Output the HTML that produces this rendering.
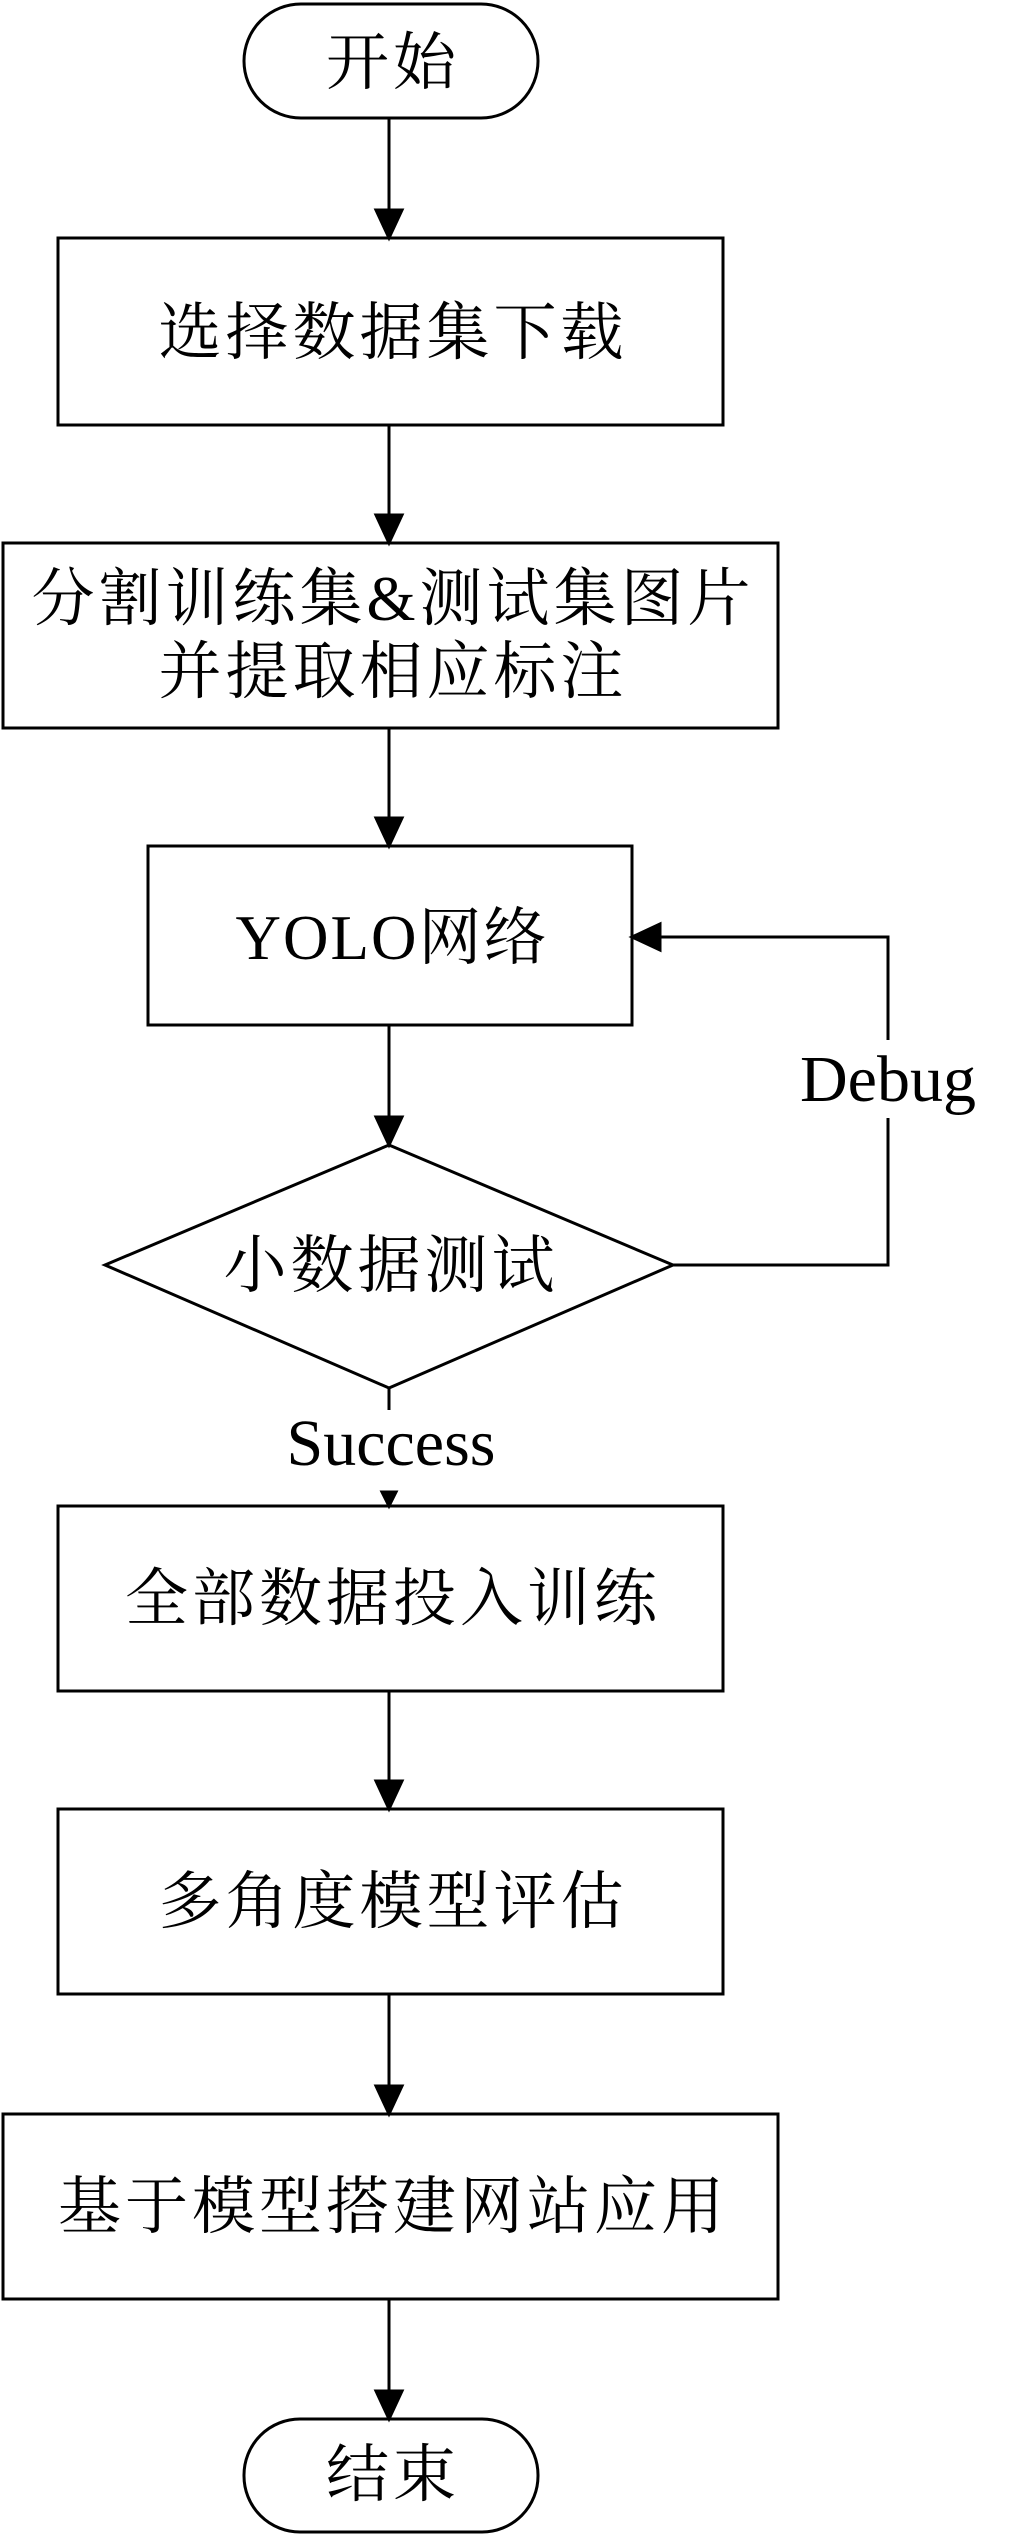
<!DOCTYPE html>
<html><head><meta charset="utf-8"><style>
html,body{margin:0;padding:0;background:#fff;}
svg text{font-family:"Liberation Serif","Noto Serif CJK SC",serif;fill:#000;}
</style></head><body>
<svg width="1010" height="2535" viewBox="0 0 1010 2535" xmlns="http://www.w3.org/2000/svg">
<g fill="none" stroke="#000" stroke-width="3">
<rect x="244" y="4" width="294" height="114" rx="57"/>
<rect x="58" y="238" width="665" height="187"/>
<rect x="3" y="543" width="775" height="185"/>
<rect x="148" y="846" width="484" height="179"/>
<polygon points="389,1145 673,1265 389,1388 105,1265"/>
<rect x="58" y="1506" width="665" height="185"/>
<rect x="58" y="1809" width="665" height="185"/>
<rect x="3" y="2114" width="775" height="185"/>
<rect x="244" y="2419" width="294" height="113" rx="56"/>
</g>
<g stroke="#000" stroke-width="3" fill="#000">
<line x1="389" y1="118" x2="389" y2="212"/><polygon points="376,210 402,210 389,238"/>
<line x1="389" y1="425" x2="389" y2="517"/><polygon points="376,515 402,515 389,543"/>
<line x1="389" y1="728" x2="389" y2="820"/><polygon points="376,818 402,818 389,846"/>
<line x1="389" y1="1025" x2="389" y2="1119"/><polygon points="376,1117 402,1117 389,1145"/>
<line x1="389" y1="1388" x2="389" y2="1410"/>
<polygon points="382,1492 396,1492 389,1506"/>
<line x1="389" y1="1691" x2="389" y2="1783"/><polygon points="376,1781 402,1781 389,1809"/>
<line x1="389" y1="1994" x2="389" y2="2088"/><polygon points="376,2086 402,2086 389,2114"/>
<line x1="389" y1="2299" x2="389" y2="2393"/><polygon points="376,2391 402,2391 389,2419"/>
<polyline points="673,1265 888,1265 888,1118" fill="none"/>
<polyline points="888,1040 888,937 658,937" fill="none"/>
<polygon points="660,924 660,950 632,937"/>
</g>
<g font-size="63" text-anchor="middle" letter-spacing="4">
<text x="393" y="84">开始</text>
<text x="393" y="354">选择数据集下载</text>
<text x="393" y="620">分割训练集&amp;测试集图片</text>
<text x="393" y="693">并提取相应标注</text>
<text x="392" y="959" letter-spacing="2">YOLO网络</text>
<text x="391" y="1287">小数据测试</text>
<text x="393" y="1620">全部数据投入训练</text>
<text x="393" y="1923">多角度模型评估</text>
<text x="393" y="2228">基于模型搭建网站应用</text>
<text x="393" y="2496">结束</text>
</g>
<g font-size="66" text-anchor="middle">
<text x="888" y="1101">Debug</text>
<text x="391" y="1465">Success</text>
</g>
</svg>
</body></html>
